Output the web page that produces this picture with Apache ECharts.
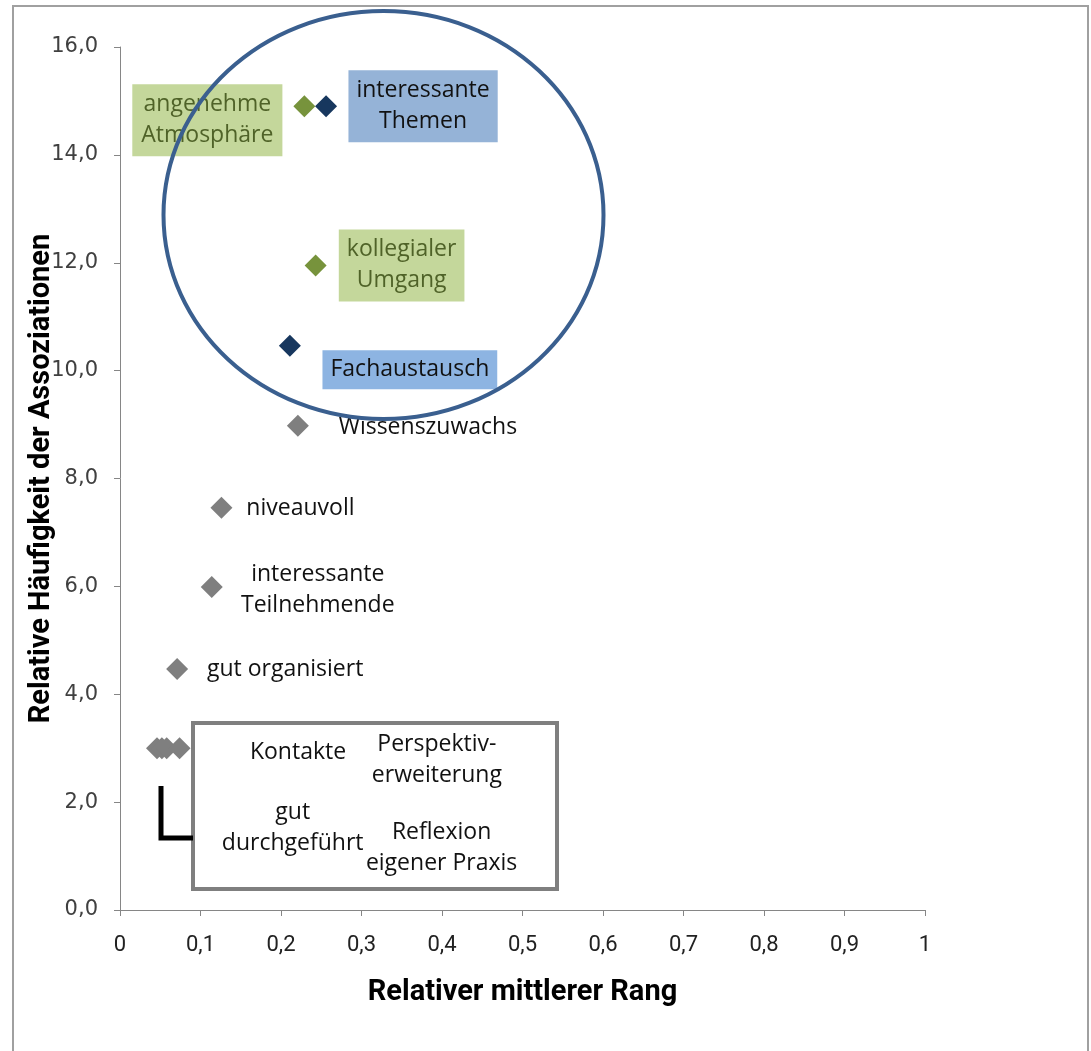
<!DOCTYPE html>
<html>
<head>
<meta charset="utf-8">
<script src="https://cdn.jsdelivr.net/npm/echarts@6/dist/echarts.min.js"></script>
<style>
  html, body { margin: 0; padding: 0; background: #ffffff; }
  #chart { width: 1091px; height: 1051px; }
</style>
</head>
<body>
<div id="chart"></div>
<script>
// Associations: relative mean rank (x) vs. relative frequency (y)
const names = [
  'angenehme\nAtmosphäre', 'interessante\nThemen', 'kollegialer\nUmgang', 'Fachaustausch',
  'Wissenszuwachs', 'niveauvoll', 'interessante\nTeilnehmende', 'gut organisiert',
  'Kontakte', 'Perspektiv-\nerweiterung', 'gut\ndurchgeführt', 'Reflexion\neigener Praxis'
];
const rankValues = [0.229, 0.256, 0.243, 0.211, 0.221, 0.126, 0.114, 0.071, 0.046, 0.052, 0.058, 0.074];
const freqValues = [14.9, 14.9, 11.95, 10.46, 8.98, 7.46, 5.99, 4.47, 3.0, 3.0, 3.0, 3.0];
// group: 0 = general, 1 = social (green), 2 = content (dark blue)
const groups = [1, 2, 1, 2, 0, 0, 0, 0, 0, 0, 0, 0];
const xTicks = ['0', '0,1', '0,2', '0,3', '0,4', '0,5', '0,6', '0,7', '0,8', '0,9', '1'];

// label placement relative to each marker (pixels)
const labelOffsets = [
  [-97, 14], [97, 0], [86, 0], [120, 24],
  [130, 2], [79, 1], [106, 3], [108, 1],
  [141, 4], [275, 12], [126, 80], [262, 100]
];

const markerColors = ['#7f7f7f', '#77933c', '#17375e'];
const labelFont = '"Open Sans", "DejaVu Sans", sans-serif';

function labelStyle(g) {
  const base = {
    show: true, position: 'inside', align: 'center', verticalAlign: 'middle',
    fontFamily: labelFont, fontSize: 23, lineHeight: 31, color: '#111111'
  };
  if (g === 1) {
    return Object.assign(base, { color: '#4f6228', backgroundColor: '#c4d79b', padding: [5, 9, 5, 9] });
  }
  if (g === 2) {
    return Object.assign(base, { color: '#111111', backgroundColor: '#95b3d7', padding: [5, 8, 5, 8] });
  }
  return base;
}

const points = names.map((n, i) => {
  const lab = labelStyle(groups[i]);
  lab.offset = labelOffsets[i];
  lab.formatter = n;
  if (n === 'Fachaustausch') { lab.backgroundColor = '#8db4e2'; lab.padding = [4, 8, 4, 8]; }
  if (n === 'kollegialer\nUmgang') { lab.padding = [5, 8, 5, 8]; }
  return {
    name: n,
    value: [rankValues[i], freqValues[i]],
    itemStyle: { color: markerColors[groups[i]], opacity: 1 },
    label: lab
  };
});

const chart = echarts.init(document.getElementById('chart'), null, { renderer: 'canvas' });

const axisLine = { show: true, lineStyle: { color: '#868686', width: 1 } };
const titleFont = 'Roboto, "Liberation Sans", sans-serif';

chart.setOption({
  backgroundColor: '#ffffff',
  animation: false,
  grid: { left: 120, right: 166, top: 47, bottom: 141, containLabel: false },
  xAxis: {
    type: 'value', min: 0, max: 1, interval: 0.1,
    axisLine: axisLine,
    axisTick: { show: true, inside: false, length: 6, lineStyle: { color: '#868686' } },
    splitLine: { show: false },
    axisLabel: {
      margin: 24, fontSize: 22, color: '#222222',
      fontFamily: titleFont,
      formatter: (v) => xTicks[Math.round(v * 10)]
    },
    name: 'Relativer mittlerer Rang', nameLocation: 'middle', nameGap: 68,
    nameTextStyle: { fontSize: 29, fontWeight: 'bold', color: '#000000', fontFamily: titleFont }
  },
  yAxis: {
    type: 'value', min: 0, max: 16, interval: 2,
    axisLine: axisLine,
    axisTick: { show: true, inside: false, length: 6, lineStyle: { color: '#868686' } },
    splitLine: { show: false },
    axisLabel: {
      margin: 22, fontSize: 21, color: '#404040',
      fontFamily: '"DejaVu Sans", Verdana, sans-serif',
      formatter: (v) => v.toFixed(1).replace('.', ',')
    },
    name: 'Relative Häufigkeit der Assoziationen', nameLocation: 'middle', nameGap: 64,
    nameMoveOverlap: false,
    nameRotate: 90,
    nameTextStyle: { fontSize: 29, fontWeight: 'bold', color: '#000000', fontFamily: titleFont }
  },
  series: [{
    type: 'scatter',
    symbol: 'diamond',
    symbolSize: 22,
    z: 2,
    itemStyle: { opacity: 1 },
    data: points
  }],
  graphic: [
    // outer frame
    { type: 'rect', z: 0, silent: true,
      shape: { x: 13, y: 6, width: 1075, height: 1080 },
      style: { fill: 'none', stroke: '#a0a0a0', lineWidth: 2 } },
    // box around the clustered low-frequency labels
    { type: 'rect', z: 1, silent: true,
      shape: { x: 193, y: 723, width: 364, height: 166 },
      style: { fill: '#ffffff', stroke: '#7f7f7f', lineWidth: 4 } },
    // bracket connecting the cluster to its box
    { type: 'polyline', z: 1, silent: true,
      shape: { points: [[161, 786], [161, 838], [193, 838]] },
      style: { fill: 'none', stroke: '#000000', lineWidth: 5 } },
    // ellipse highlighting the top associations
    { type: 'ellipse', z: 100, silent: true,
      shape: { cx: 383.5, cy: 215, rx: 220, ry: 204 },
      style: { fill: 'none', stroke: '#3a5f8f', lineWidth: 4 } }
  ]
});
</script>
</body>
</html>
